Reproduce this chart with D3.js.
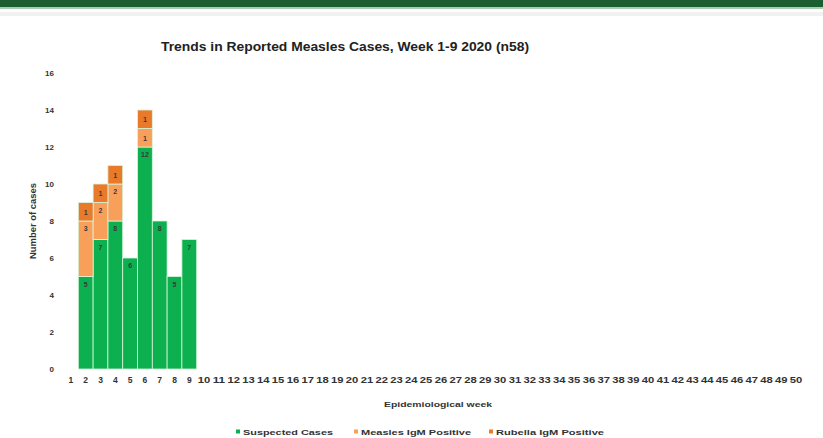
<!DOCTYPE html>
<html>
<head>
<meta charset="utf-8">
<script src="https://cdn.jsdelivr.net/npm/d3@7"></script>
<style>
  html,body{margin:0;padding:0;background:#fff;}
  svg{display:block;}
  text{font-family:"Liberation Sans",Arial,sans-serif;}
</style>
</head>
<body>
<svg id="chart" width="823" height="438"></svg>
<script>
const weeks = ["1","2","3","4","5","6","7","8","9","10","11","12","13","14","15","16","17","18","19","20","21","22","23","24","25","26","27","28","29","30","31","32","33","34","35","36","37","38","39","40","41","42","43","44","45","46","47","48","49","50"];
const suspected = [0,5,7,8,6,12,8,5,7];
const measles   = [0,3,2,2,0,1,0,0,0];
const rubella   = [0,1,1,1,0,1,0,0,0];
const yTicks = [0,2,4,6,8,10,12,14,16];
const seriesNames = ["Suspected Cases","Measles IgM Positive","Rubella IgM Positive"];
const colors = ["#0db04f","#f8a05a","#e97a2a"];

const svg = d3.select("#chart");

// header band
svg.append("rect").attr("x",0).attr("y",0).attr("width",823).attr("height",7).attr("fill","#1b5e2f");
svg.append("rect").attr("x",0).attr("y",7).attr("width",823).attr("height",2).attr("fill","#a9cdb2");
svg.append("rect").attr("x",0).attr("y",12).attr("width",823).attr("height",4).attr("fill","#f1f1f1");

const x = d3.scaleBand().domain(weeks).range([63.5,803.5]).padding(0);
const y = d3.scaleLinear().domain([0,16]).range([369,73]);

// stacked data
const rows = suspected.map((s,i)=>({week:weeks[i], s:s, m:measles[i], r:rubella[i]}));
const stack = d3.stack().keys(["s","m","r"])(rows);

const g = svg.append("g");
stack.forEach((layer,li)=>{
  g.selectAll(null).data(layer.filter(d=>d[1]-d[0]>0)).enter().append("rect")
    .attr("x",d=>x(d.data.week))
    .attr("width",x.bandwidth())
    .attr("y",d=>y(d[1]))
    .attr("height",d=>y(d[0])-y(d[1]))
    .attr("fill",colors[li])
    .attr("stroke","#d8f5dc").attr("stroke-width",0.8);
  g.selectAll(null).data(layer.filter(d=>d[1]-d[0]>0)).enter().append("text")
    .attr("x",d=>x(d.data.week)+x.bandwidth()/2)
    .attr("y",d=>y(d[1])+ (d[1]-d[0]>=2 ? 10 : 12))
    .attr("text-anchor","middle")
    .attr("font-size","7px")
    .attr("font-weight","bold")
    .attr("fill","#3a3a3a")
    .text(d=>d[1]-d[0]);
});

// y axis
const yAxis = d3.axisLeft(y).tickValues(yTicks).tickSize(0).tickPadding(0);
const ya = svg.append("g").attr("transform","translate(54,0)").call(yAxis);
ya.select(".domain").remove();
ya.selectAll("text").attr("font-size","8px").attr("font-weight","bold").attr("fill","#333")
  .attr("font-family","Liberation Sans, Arial, sans-serif");

// x axis
const xAxis = d3.axisBottom(x).tickSize(0).tickPadding(0);
const xa = svg.append("g").attr("transform","translate(0,377)").call(xAxis);
xa.select(".domain").remove();
xa.selectAll("text").attr("font-size","8.5px").attr("font-weight","bold").attr("fill","#333")
  .attr("font-family","Liberation Sans, Arial, sans-serif")
  .attr("textLength",d=>d.length>1?12.5:null).attr("lengthAdjust","spacingAndGlyphs");

// title
svg.append("text").attr("x",345).attr("y",51).attr("text-anchor","middle")
  .attr("font-size","12px").attr("font-weight","bold").attr("fill","#222")
  .attr("textLength",368).attr("lengthAdjust","spacingAndGlyphs")
  .text("Trends in Reported Measles Cases, Week 1-9 2020 (n58)");

// axis titles
svg.append("text").attr("transform","translate(36,221) rotate(-90)").attr("text-anchor","middle")
  .attr("font-size","8.5px").attr("font-weight","bold").attr("fill","#333")
  .attr("textLength",76).attr("lengthAdjust","spacingAndGlyphs").text("Number of cases");
svg.append("text").attr("x",438).attr("y",407).attr("text-anchor","middle")
  .attr("font-size","8px").attr("font-weight","bold").attr("fill","#333")
  .attr("textLength",108).attr("lengthAdjust","spacingAndGlyphs").text("Epidemiological week");

// legend
const legX = [236,354,489];
const legW = [90,110,108];
const leg = svg.append("g");
seriesNames.forEach((n,i)=>{
  leg.append("rect").attr("x",legX[i]).attr("y",429.5).attr("width",4).attr("height",4).attr("fill",colors[i]);
  leg.append("text").attr("x",legX[i]+7).attr("y",434.5).attr("font-size","7.5px").attr("font-weight","bold").attr("fill","#333")
    .attr("textLength",legW[i]).attr("lengthAdjust","spacingAndGlyphs").text(n);
});
</script>
</body>
</html>
